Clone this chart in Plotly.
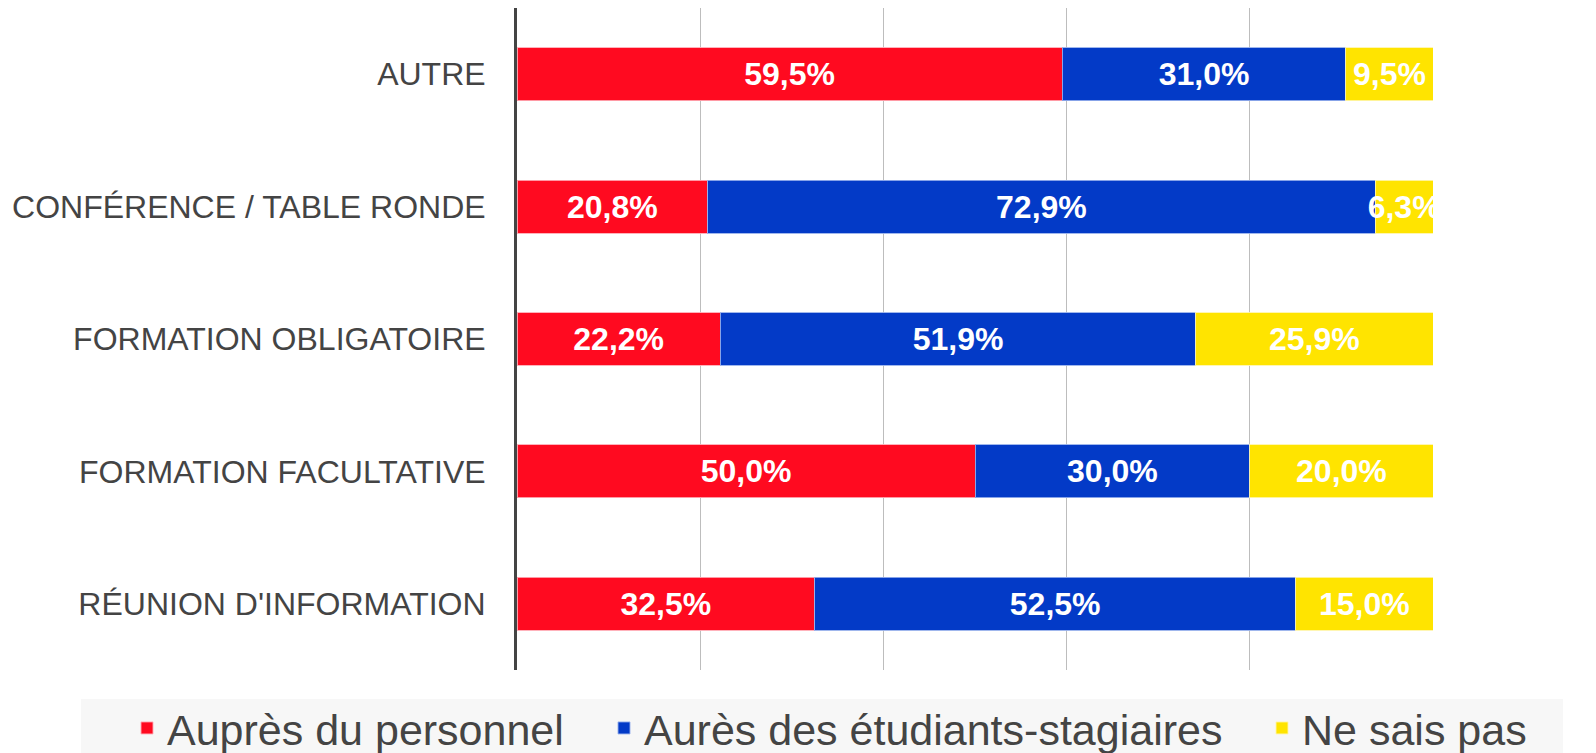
import plotly.graph_objects as go

categories = ["AUTRE", "CONFÉRENCE / TABLE RONDE", "FORMATION OBLIGATOIRE",
              "FORMATION FACULTATIVE", "RÉUNION D'INFORMATION"]
series_names = ["Auprès du personnel", "Aurès des étudiants-stagiaires", "Ne sais pas"]
personnel = [59.5, 20.8, 22.2, 50.0, 32.5]
etudiants = [31.0, 72.9, 51.9, 30.0, 52.5]
ne_sais_pas = [9.5, 6.3, 25.9, 20.0, 15.0]
colors = ["#FF0A20", "#033AC7", "#FFE400"]

# page body has an 8px margin, so the figure is 8px smaller than the window
W, H = 1588, 745
L, R, T, B = 509, 163, 0, 83
pw = W - L - R
ph = H - T - B
FONT = "Liberation Sans, Arial, Helvetica, sans-serif"

def px_x(v):
    return (v - L) / pw

def px_y(v):
    return (H - B - v) / ph

legend_ids = ["legend", "legend2", "legend3"]
legend_px = [119, 596, 1254]

fig = go.Figure()
for name, vals, col, lc, lid in zip(series_names, [personnel, etudiants, ne_sais_pas], colors,
                                    ["rgba(255,170,180,0.9)", "rgba(150,175,235,0.9)", "rgba(255,245,170,0.9)"],
                                    legend_ids):
    fig.add_trace(go.Bar(
        y=categories, x=vals, name=name, orientation="h",
        marker=dict(color=col, line=dict(color=lc, width=1)),
        text=[f"{v:.1f}%".replace(".", ",") for v in vals],
        textposition="inside", insidetextanchor="middle",
        textfont=dict(color="white", size=32, family=FONT, weight="bold"),
        cliponaxis=True,
        hoverinfo="skip",
        legend=lid,
    ))

fig.add_shape(type="rect", xref="paper", yref="paper",
              x0=px_x(73), x1=px_x(1555), y0=px_y(691), y1=px_y(760),
              fillcolor="#F7F7F7", line=dict(width=0), layer="below")

legend_common = dict(orientation="h", xanchor="left", y=px_y(720), yanchor="middle",
                     bgcolor="rgba(0,0,0,0)", font=dict(size=43, color="#444444"),
                     itemwidth=30)

fig.update_layout(
    barmode="stack",
    bargap=0.6,
    width=W, height=H,
    margin=dict(l=L, r=R, t=T, b=B, pad=0, autoexpand=False),
    paper_bgcolor="white", plot_bgcolor="white",
    font=dict(family=FONT, color="#444444"),
    uniformtext=dict(mode="show", minsize=32),
    xaxis=dict(range=[0, 100], dtick=20, showgrid=True, gridcolor="#BDBDBD", gridwidth=1,
               showticklabels=False, zeroline=False, showline=False, fixedrange=True),
    yaxis=dict(autorange="reversed", showline=True, linecolor="#444444", linewidth=3,
               tickfont=dict(size=32, color="#444444"), ticks="", ticklabelstandoff=22,
               showgrid=False),
    legend=dict(x=px_x(legend_px[0]), **legend_common),
    legend2=dict(x=px_x(legend_px[1]), **legend_common),
    legend3=dict(x=px_x(legend_px[2]), **legend_common),
    showlegend=True,
)

fig.write_html("out.html")
